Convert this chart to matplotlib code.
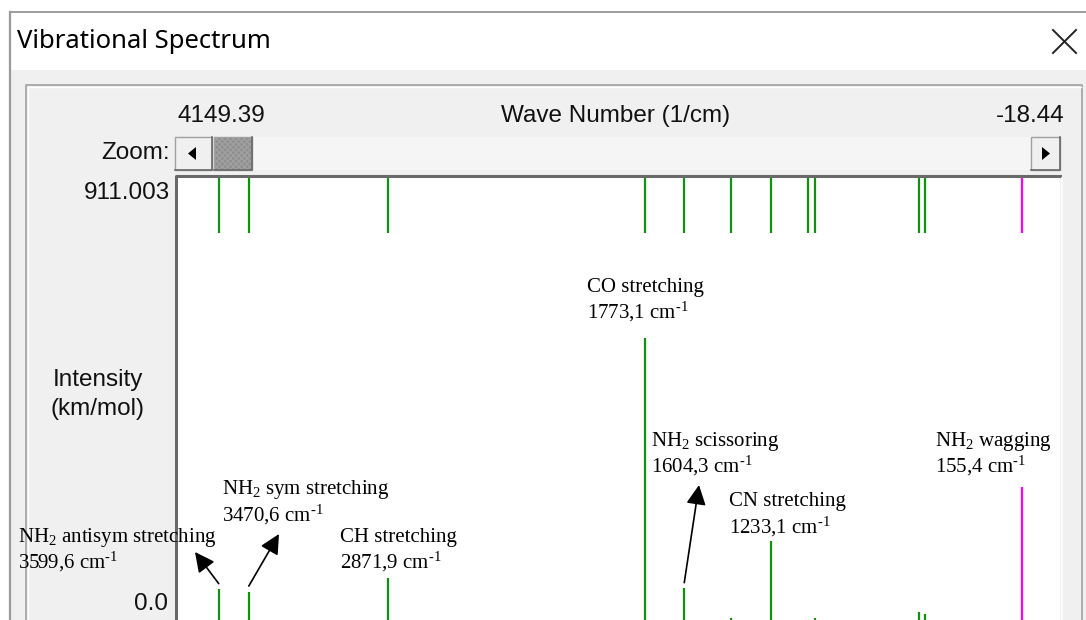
import matplotlib
matplotlib.use("Agg")
import matplotlib.pyplot as plt
from matplotlib.patches import Rectangle, Polygon
from matplotlib.transforms import blended_transform_factory

plt.rcParams['mathtext.fontset'] = 'custom'
plt.rcParams['mathtext.rm'] = 'Liberation Serif'
plt.rcParams['mathtext.default'] = 'regular'

# Computed normal modes: wave number (1/cm) and IR intensity (km/mol)
wavenumbers = [3599.6, 3470.6, 2871.9, 1773.1, 1604.3, 1406.0,
               1233.1, 1074.0, 1046.0, 598.0, 573.0, 155.4]
intensities = [63, 58, 87, 581, 65, 5, 162, 1, 5, 16, 12, 275]
selected_mode = 155.4

# Range shown in the header and intensity scale
range_start = 4149.39
range_end = -18.44
intensity_max = 911.003
view_limits = (3774, -6)

# Assigned bands
band_names = ["NH$_2$ antisym stretching", "NH$_2$ sym stretching",
              "CH stretching", "CO stretching", "NH$_2$ scissoring",
              "CN stretching", "NH$_2$ wagging"]
band_wavenumbers = [3599.6, 3470.6, 2871.9, 1773.1, 1604.3, 1233.1, 155.4]

W, H = 1086, 620
GREEN = '#0c940c'
MAGENTA = '#ff00ff'
UI_FONT = dict(family='Liberation Sans', size=17.5, color='#111111')
LABEL_FONT = dict(family='Liberation Serif', size=15, color='black')

fig = plt.figure(figsize=(W / 100, H / 100), dpi=100)


def fx(x):
    return x / W


def fy(y):
    return 1 - y / H


# --- dialog frame, drawn in pixel units ---
bg = fig.add_axes([0, 0, 1, 1], zorder=0)
bg.set_xlim(0, W)
bg.set_ylim(H, 0)
bg.axis('off')

bg.add_patch(Rectangle((10, 12), W - 10, H - 12, fc='#f0f0f0', ec='none'))
bg.add_patch(Rectangle((10, 12), W - 10, 58, fc='white', ec='none'))
bg.plot([10, W], [12, 12], color='#8c8c8c', lw=1.2)
bg.plot([10, 10], [12, H], color='#9a9a9a', lw=1.6)
bg.text(17, 42, "Vibrational Spectrum", family='Noto Sans', size=18.5,
        va='center', ha='left', color='black')
bg.plot([1053, 1076], [30, 53], color='#222222', lw=1.4)
bg.plot([1053, 1076], [53, 30], color='#222222', lw=1.4)

# group panel
bg.plot([26, 26, 1082, 1082], [H, 85, 85, H], color='#a0a0a0', lw=1.2)
bg.plot([27.5, 27.5, 1080.5], [H, 86.5, 86.5], color='white', lw=1.0)

# zoom scrollbar
bg.add_patch(Rectangle((175, 137), 885, 33, fc='#f5f5f5', ec='none'))
for x0, w in [(175, 37), (1031, 29)]:
    bg.add_patch(Rectangle((x0, 137), w, 33, fc='#f0f0f0', ec='#a0a0a0', lw=1.0))
    bg.plot([x0 + w, x0 + w, x0], [137, 170, 170], color='#696969', lw=1.2)
bg.add_patch(Rectangle((214, 137), 38, 33, fc='#8e8e8e', ec='#a0a0a0',
                       hatch='xxxxxx', lw=1.0))
bg.plot([252, 252, 214], [137, 170, 170], color='#696969', lw=1.2)
bg.add_patch(Polygon([(188, 153.5), (196, 147), (196, 160)], fc='black'))
bg.add_patch(Polygon([(1050, 153.5), (1042, 147), (1042, 160)], fc='black'))

# sunken edge around the plot area
bg.plot([176, 176, 1060], [H, 176, 176], color='#696969', lw=2.2)
bg.plot([1062, 1062], [178, H], color='white', lw=1.2)

# header and axis labels
bg.text(178, 116, f"{range_start:.2f}", ha='left', va='center', **UI_FONT)
bg.text(616, 116, "Wave Number (1/cm)", ha='center', va='center', **UI_FONT)
bg.text(1065, 116, f"{range_end:.2f}", ha='right', va='center', **UI_FONT)
bg.text(170, 153, "Zoom:", ha='right', va='center', **UI_FONT)
bg.text(170, 193, f"{intensity_max:.3f}", ha='right', va='center', **UI_FONT)
bg.text(98, 380, "Intensity", ha='center', va='center', **UI_FONT)
bg.text(98, 409, "(km/mol)", ha='center', va='center', **UI_FONT)
bg.text(168, 604, "0.0", ha='right', va='center', **UI_FONT)

# --- spectrum ---
ax = fig.add_axes([fx(178), 0, 882 / W, 442 / H], zorder=1)
ax.set_facecolor('white')
ax.set_xlim(*view_limits)
ax.set_ylim(0, intensity_max)
ax.set_xticks([])
ax.set_yticks([])
for s in ax.spines.values():
    s.set_visible(False)

colors = [MAGENTA if w == selected_mode else GREEN for w in wavenumbers]
ax.vlines(wavenumbers, 0, intensities, colors=colors, lw=1.6)

# stick ruler across the top of the plot
ruler = blended_transform_factory(ax.transData, ax.transAxes)
ax.vlines(wavenumbers, 1 - 55 / 442, 1, colors=colors, lw=1.6, transform=ruler)

# band labels: left edge and baselines of both lines, in pixels
label_pos = [(18, 542, 568), (222, 494, 521), (340, 542, 568),
             (587, 292, 318), (651, 446, 472), (729, 506, 533),
             (935, 446, 472)]
for name, wn, (tx, y1, y2) in zip(band_names, band_wavenumbers, label_pos):
    value = f"{wn:.1f}".replace('.', ',')
    fig.text(fx(tx), fy(y1), name, ha='left', va='baseline', zorder=5, **LABEL_FONT)
    fig.text(fx(tx), fy(y2), value + r" cm$^{\text{-}1}$", ha='left',
             va='baseline', zorder=5, **LABEL_FONT)

# arrows from the weak peaks up to their labels
arrow_heads = {3599.6: (195, 552), 3470.6: (279, 534), 1604.3: (699, 485)}
for wn, (hx, hy) in arrow_heads.items():
    inten = intensities[wavenumbers.index(wn)]
    ax.annotate('', xy=(fx(hx), fy(hy)), xycoords='figure fraction',
                xytext=(wn, inten + 12), textcoords='data',
                annotation_clip=False,
                arrowprops=dict(arrowstyle='-|>', color='black', lw=1.2,
                                mutation_scale=30, shrinkA=0, shrinkB=0))

fig.savefig("out.png", dpi=100)
